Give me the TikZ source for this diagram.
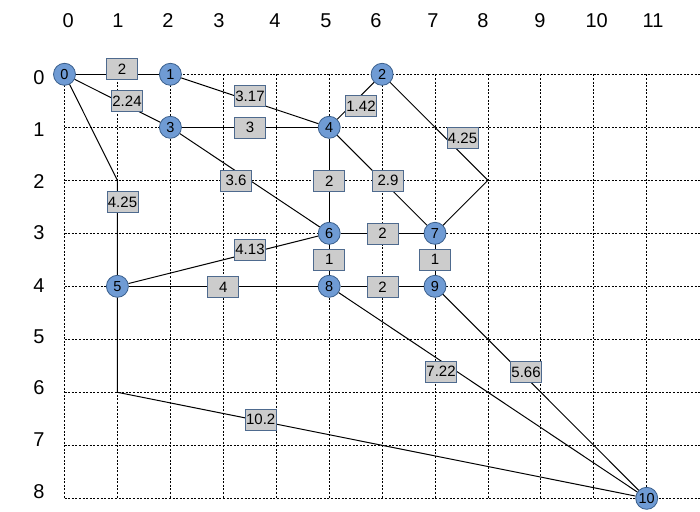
\documentclass[tikz,border=0pt]{standalone}
\usepackage{fontspec}
\setmainfont{Liberation Sans}
\definecolor{nodefill}{HTML}{6F9BD4}
\definecolor{nodeline}{HTML}{3A5F8C}
\definecolor{boxfill}{HTML}{CCCCCC}
\definecolor{boxline}{HTML}{4E6A8E}
\begin{document}
\begin{tikzpicture}[x=1pt,y=-1pt,
  gridline/.style={black, line width=0.8pt, dash pattern=on 2pt off 1.6pt},
  axislabel/.style={inner sep=0pt, font=\fontsize{20}{24}\selectfont},
  vert/.style={circle, fill=nodefill, draw=nodeline, line width=0.8pt, minimum size=22pt, inner sep=0pt, font=\fontsize{14.5}{16}\selectfont},
  edge/.style={black, line width=1pt},
  wbox/.style={rectangle, fill=boxfill, draw=boxline, line width=0.8pt, minimum width=31pt, minimum height=21pt, inner sep=0pt, font=\fontsize{15}{17}\selectfont}]
\useasboundingbox (0,0) rectangle (700,511);
% grid
\foreach \i in {0,...,11} \draw[gridline] ({64.5+52.93*\i},74.3) -- ({64.5+52.93*\i},498.3);
\foreach \j in {0,...,8} \draw[gridline] (64.5,{74.3+53*\j}) -- (700,{74.3+53*\j});
% column labels
\node[axislabel] (c0) at (68.3,20.3) {0};
\node[axislabel] (c1) at (118,20.3) {1};
\node[axislabel] (c2) at (168,20.3) {2};
\node[axislabel] (c3) at (219,20.3) {3};
\node[axislabel] (c4) at (275,20.3) {4};
\node[axislabel] (c5) at (326,20.3) {5};
\node[axislabel] (c6) at (376,20.3) {6};
\node[axislabel] (c7) at (433,20.3) {7};
\node[axislabel] (c8) at (483,20.3) {8};
\node[axislabel] (c9) at (540,20.3) {9};
\node[axislabel] (c10) at (596.7,20.3) {10};
\node[axislabel] (c11) at (653,20.3) {11};
% row labels
\node[axislabel] (r0) at (39,77.8) {0};
\node[axislabel] (r1) at (39,129.5) {1};
\node[axislabel] (r2) at (39,181.2) {2};
\node[axislabel] (r3) at (39,232.8) {3};
\node[axislabel] (r4) at (39,285.3) {4};
\node[axislabel] (r5) at (39,337.2) {5};
\node[axislabel] (r6) at (39,387.5) {6};
\node[axislabel] (r7) at (39,440) {7};
\node[axislabel] (r8) at (39,492) {8};
% vertices
\node[vert] (n0) at (64.5,74.3) {0};
\node[vert] (n1) at (170.4,74.3) {1};
\node[vert] (n2) at (382.1,74.3) {2};
\node[vert] (n3) at (170.4,127.3) {3};
\node[vert] (n4) at (329.2,127.3) {4};
\node[vert] (n5) at (117.4,286.3) {5};
\node[vert] (n6) at (329.2,233.3) {6};
\node[vert] (n7) at (435.0,233.3) {7};
\node[vert] (n8) at (329.2,286.3) {8};
\node[vert] (n9) at (435.0,286.3) {9};
\node[vert] (n10) at (646.7,498.3) {10};
\coordinate (b5) at (117.4,180.3);
\coordinate (b7) at (487.9,180.3);
\coordinate (b10) at (117.4,392.3);
% edges
\draw[edge] (n0) -- (n1);
\draw[edge] (n0) -- (n3);
\draw[edge] (n0) -- (b5) -- (n5);
\draw[edge] (n1) -- (n4);
\draw[edge] (n3) -- (n4);
\draw[edge] (n3) -- (n6);
\draw[edge] (n4) -- (n6);
\draw[edge] (n4) -- (n2);
\draw[edge] (n4) -- (n7);
\draw[edge] (n2) -- (b7) -- (n7);
\draw[edge] (n6) -- (n7);
\draw[edge] (n7) -- (n9);
\draw[edge] (n6) -- (n8);
\draw[edge] (n5) -- (n6);
\draw[edge] (n5) -- (n8);
\draw[edge] (n8) -- (n9);
\draw[edge] (n8) -- (n10);
\draw[edge] (n9) -- (n10);
\draw[edge] (n5) -- (b10) -- (n10);
% weights
\node[wbox] (w01) at (122,69) {2};
\node[wbox] (w03) at (127,101) {2.24};
\node[wbox] (w05) at (122.5,202) {4.25};
\node[wbox] (w14) at (250,96) {3.17};
\node[wbox] (w34) at (250,127.8) {3};
\node[wbox] (w36) at (236,180.8) {3.6};
\node[wbox] (w46) at (329.3,180.8) {2};
\node[wbox] (w24) at (361,106) {1.42};
\node[wbox] (w47) at (388,180.7) {2.9};
\node[wbox] (w27) at (462.5,138) {4.25};
\node[wbox] (w67) at (382.5,233.7) {2};
\node[wbox] (w79) at (435,259.7) {1};
\node[wbox] (w68) at (329.3,259.7) {1};
\node[wbox] (w56) at (250,249.7) {4.13};
\node[wbox] (w58) at (223.3,287) {4};
\node[wbox] (w89) at (382.5,287) {2};
\node[wbox] (w810) at (441,371.7) {7.22};
\node[wbox] (w910) at (526,372) {5.66};
\node[wbox] (w510) at (260.7,419.5) {10.2};
\end{tikzpicture}
\end{document}
